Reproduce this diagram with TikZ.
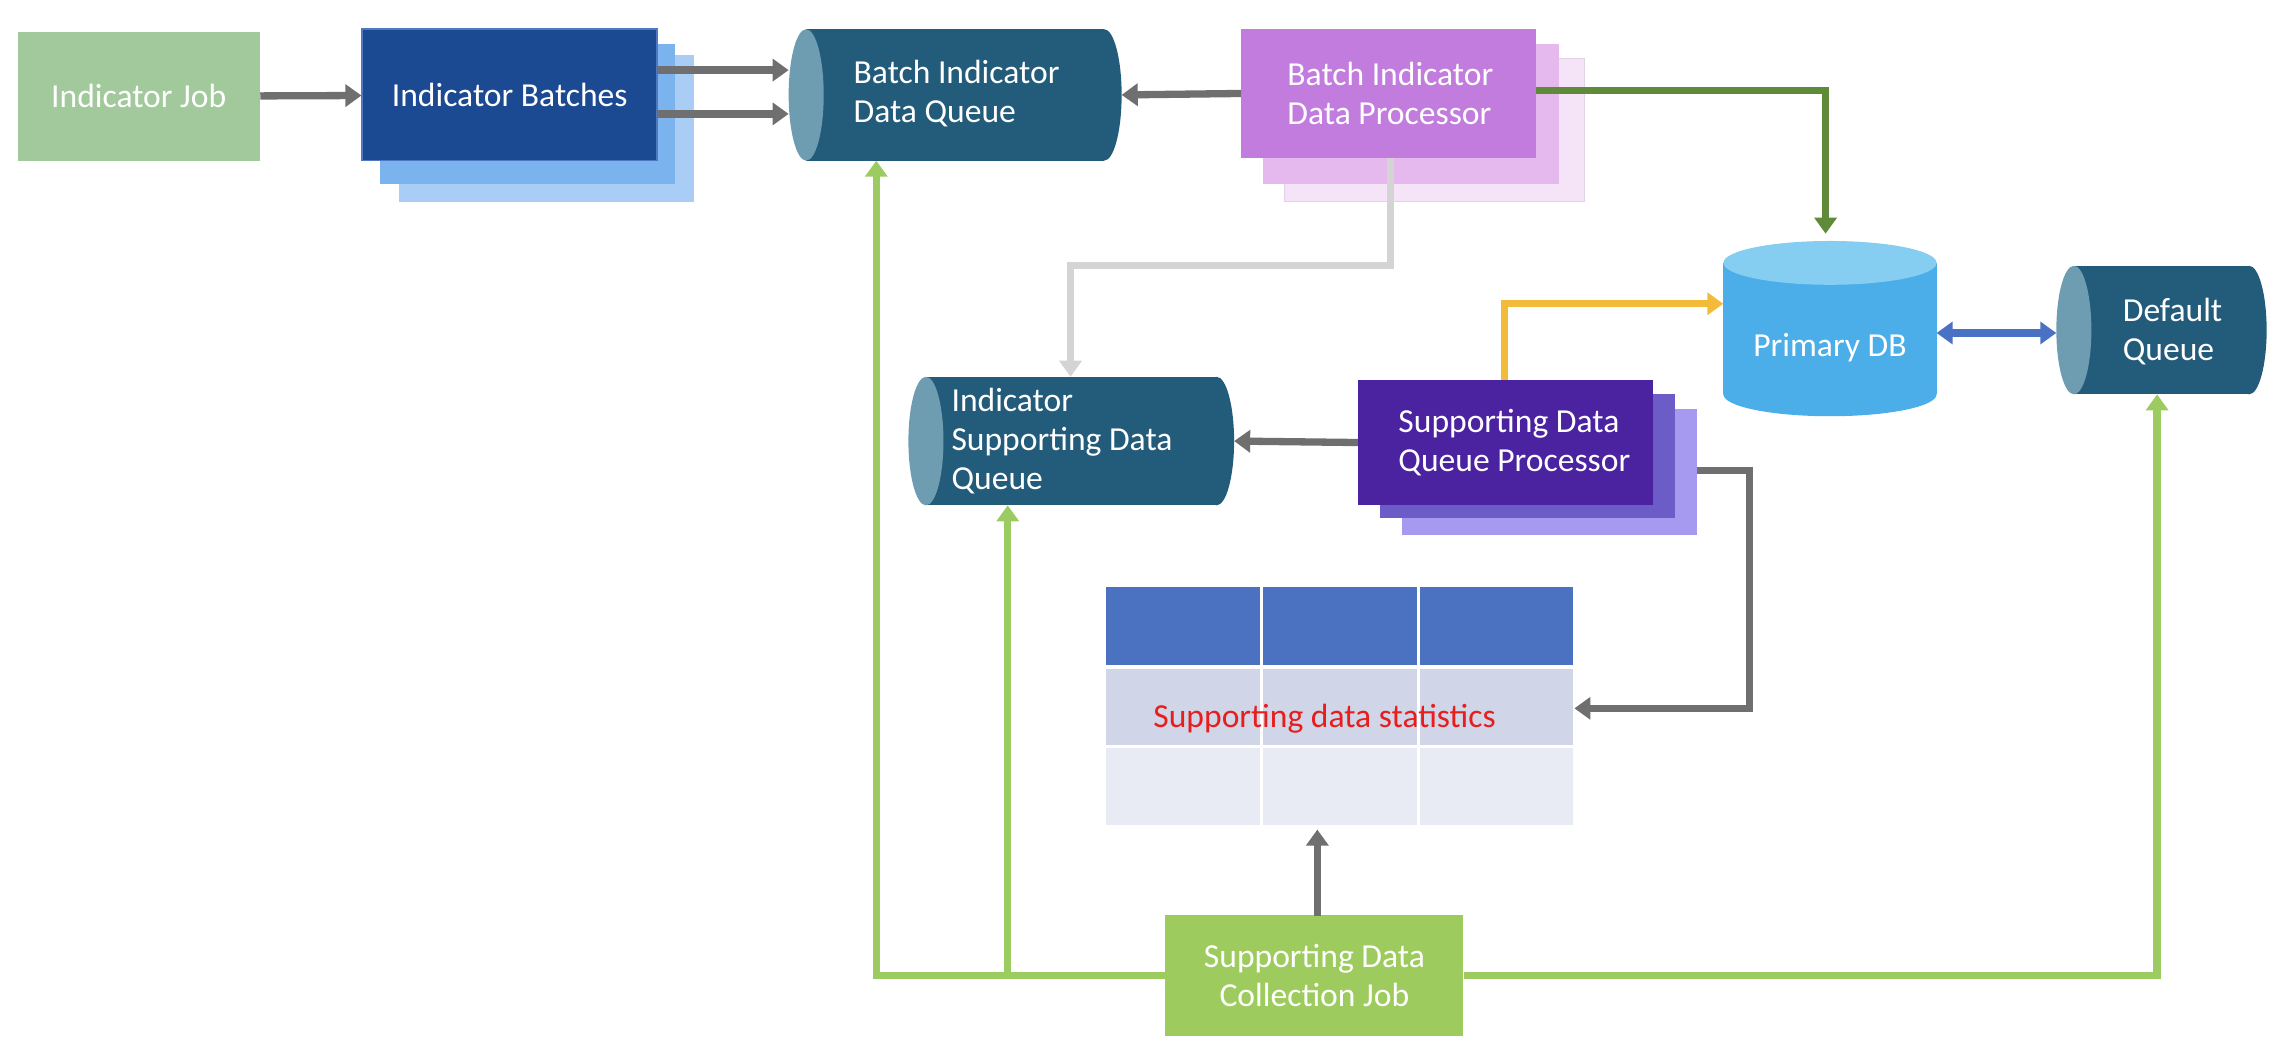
\documentclass[tikz,border=0pt]{standalone}
\usepackage{fontspec}
\setmainfont{Carlito}
\usetikzlibrary{shapes.geometric,arrows.meta}
\definecolor{qbody}{HTML}{235B7A}
\definecolor{qend}{HTML}{6E9DB2}
\definecolor{garr}{HTML}{6F6F6F}
\definecolor{lgreen}{HTML}{9CCB62}
\definecolor{ijc}{RGB}{161,201,155}
\definecolor{ib3c}{RGB}{169,205,245}
\definecolor{ib2c}{RGB}{122,179,238}
\definecolor{ibc}{RGB}{27,74,147}
\definecolor{ibd}{RGB}{80,120,190}
\definecolor{bp3c}{RGB}{245,228,248}
\definecolor{bp3d}{RGB}{225,210,230}
\definecolor{bp2c}{RGB}{230,185,238}
\definecolor{bpc}{RGB}{194,124,222}
\definecolor{dbb}{RGB}{75,174,232}
\definecolor{dbe}{RGB}{134,205,242}
\definecolor{sp3c}{RGB}{166,154,240}
\definecolor{sp2c}{RGB}{108,92,200}
\definecolor{spc}{RGB}{75,34,160}
\definecolor{th}{RGB}{74,114,192}
\definecolor{tr2}{RGB}{208,214,232}
\definecolor{tr3}{RGB}{232,235,244}
\definecolor{tred}{RGB}{230,30,30}
\definecolor{sjc}{RGB}{158,203,94}
\definecolor{dgreen}{RGB}{94,138,58}
\definecolor{lgray}{RGB}{212,212,212}
\definecolor{yel}{RGB}{242,188,58}
\definecolor{blu}{RGB}{74,114,196}
\tikzset{
  x=1pt,y=-1pt,
  box/.style={draw=none,minimum width=#1,inner sep=0pt},
  txt/.style={text=white,font=\fontsize{23}{27}\selectfont,align=left},
  tip/.style={-{Triangle[length=11pt,width=15pt]}},
  arr/.style={line width=5pt,draw=garr,tip},
  garrow/.style={line width=5pt,draw=lgreen},
}
% horizontal queue cylinder: name, x0, y0, x1, y1
\newcommand\hqueue[5]{%
  \fill[qbody] (#2+12,#3) rectangle (#4-12,#5);
  \fill[qbody] (#4-12,{(#3+#5)/2}) ellipse[x radius=12,y radius={(#5-#3)/2}];
  \fill[qend] (#2+12,{(#3+#5)/2}) ellipse[x radius=12,y radius={(#5-#3)/2}];
  \node[inner sep=0pt,minimum width={#4-#2},minimum height={#5-#3}] (#1) at ({(#2+#4)/2},{(#3+#5)/2}) {};
}
\begin{document}
\begin{tikzpicture}
\useasboundingbox (0,0) rectangle (1568,728);
% Indicator Job
\node[box=166,minimum height=88,fill=ijc,txt] (ij) at (95,66) {Indicator Job};
% Indicator Batches
\node[box=202,minimum height=100,fill=ib3c] (ib3) at (374,88) {};
\node[box=202,minimum height=96,fill=ib2c] (ib2) at (361,78) {};
\node[box=202,minimum height=90,fill=ibc,draw=ibd,line width=1pt,txt] (ib) at (349,65) {Indicator Batches};
% Batch Indicator Data Queue
\hqueue{bq}{540}{20}{768}{110}
\node[txt,anchor=west] (bqt) at (581,64) {Batch Indicator\\Data Queue};
% Batch Indicator Data Processor
\node[box=205,minimum height=98,fill=bp3c,draw=bp3d] (bp3) at (982,89) {};
\node[box=203,minimum height=96,fill=bp2c] (bp2) at (966,78) {};
\node[box=202,minimum height=88,fill=bpc] (bp) at (951,64) {};
\node[txt,anchor=west] (bpt) at (878,64) {Batch Indicator\\Data Processor};
% Primary DB
\fill[dbb] (1180,180) rectangle (1326,270);
\fill[dbb] (1253,270) ellipse[x radius=73,y radius=15];
\fill[dbe] (1253,180) ellipse[x radius=73,y radius=15];
\node[inner sep=0pt,minimum width=146,minimum height=120] (db) at (1253,225) {};
\node[txt] (dbt) at (1253,238) {Primary DB};
% Default Queue
\hqueue{dq}{1408}{182}{1552}{270}
\node[txt,anchor=west] (dqt) at (1450,227) {Default\\Queue};
% Indicator Supporting Data Queue
\hqueue{isq}{622}{258}{845}{346}
\node[txt,anchor=west] (isqt) at (648,302) {Indicator\\Supporting Data\\Queue};
% Supporting Data Queue Processor
\node[box=202,minimum height=86,fill=sp3c] (sp3) at (1061,323) {};
\node[box=202,minimum height=85,fill=sp2c] (sp2) at (1046,312) {};
\node[box=202,minimum height=86,fill=spc] (sp) at (1031,303) {};
\node[txt,anchor=west] (spt) at (954,303) {Supporting Data\\Queue Processor};
% Table
\foreach \xa/\xb in {757/863,865/970,972/1077}{
  \fill[th] (\xa,402) rectangle (\xb,455);
  \fill[tr2] (\xa,458) rectangle (\xb,510);
  \fill[tr3] (\xa,512) rectangle (\xb,565);
}
\node[inner sep=0pt,minimum width=320,minimum height=163] (tb) at (917,483.5) {};
\node[text=tred,font=\fontsize{23}{27}\selectfont] (tbt) at (907,492) {Supporting data statistics};
% Supporting Data Collection Job
\node[box=204,minimum height=83,fill=sjc,txt,align=center] (sj) at (900,668) {Supporting Data\\Collection Job};

% connectors
\draw[arr] (ij) -- (ib);
\draw[arr] (450,48) -- (540,48);
\draw[arr] (450,78) -- (540,78);
\draw[arr] (bp.west) -- (768,65);
\draw[line width=5pt,draw=dgreen,tip] (1052,62) -| (1250,160);
\draw[line width=5pt,draw=lgray,tip] (952,108) |- (733,182) -- (733,258);
\draw[line width=5pt,draw=yel,tip] (1030,260) |- (1180,208);
\draw[line width=5pt,draw=blu,{Triangle[length=11pt,width=15pt]}-{Triangle[length=11pt,width=15pt]}] (1326,228) -- (1408,228);
\draw[arr] (sp.west) -- (845,302);
\draw[arr] (1162,322) -| (1198,485) -- (1078,485);
\draw[arr] (902,627) -- (902,568);
\coordinate (gl) at (600,668);
\draw[garrow,tip] (sj.west) -- (gl) -- (600,110);
\draw[garrow,tip] (690,670) -- (690,346);
\draw[garrow,tip] (sj.east) -| (1477,270);
\end{tikzpicture}
\end{document}
